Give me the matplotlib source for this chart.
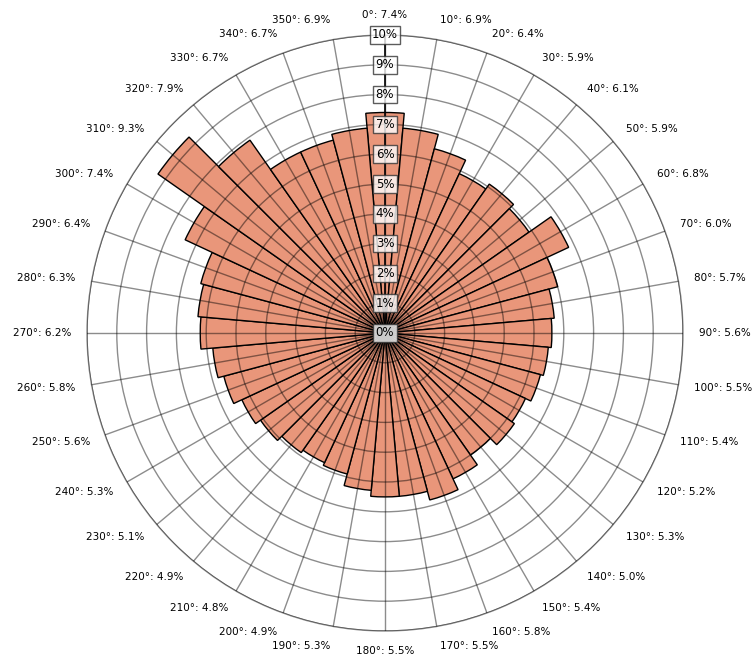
import numpy as np
import matplotlib
matplotlib.use("Agg")
import matplotlib.pyplot as plt
from matplotlib.transforms import offset_copy

# wind rose style frequencies, one per 10 deg sector
directions = np.arange(0, 360, 10)
freqs = [7.4, 6.9, 6.4, 5.9, 6.1, 5.9, 6.8, 6.0, 5.7, 5.6,
         5.5, 5.4, 5.2, 5.3, 5.0, 5.4, 5.8, 5.5, 5.5, 5.3,
         4.9, 4.8, 4.9, 5.1, 5.3, 5.6, 5.8, 6.2, 6.3, 6.4,
         7.4, 9.3, 7.9, 6.7, 6.7, 6.9]
r_ticks = list(range(0, 11))

W, H = 752, 656
fig = plt.figure(figsize=(W / 100, H / 100), dpi=100)
cx, cy, rad = 385, 333, 298
ax = fig.add_axes([(cx - rad) / W, (H - cy - rad) / H, 2 * rad / W, 2 * rad / H],
                  projection='polar')
ax.set_theta_zero_location('N')
ax.set_theta_direction(-1)

theta = np.deg2rad(directions)
ax.bar(theta, freqs, width=np.deg2rad(10), bottom=0, color='#E9967A',
       edgecolor='black', linewidth=1.0, zorder=1)

ax.set_ylim(0, 10)
ax.set_rticks(r_ticks[1:])
ax.set_yticklabels([])
ax.set_xticks(theta)
ax.set_xticklabels([])
ax.set_axisbelow(False)
ax.grid(True, color='black', alpha=0.45, linewidth=1.0)
ax.spines['polar'].set_color('black')
ax.spines['polar'].set_alpha(0.45)
ax.spines['polar'].set_linewidth(1.0)
ax.tick_params(length=0)

# radial axis line and boxed percent labels
ax.plot([0, 0], [0, 10], color='black', linewidth=1.2, zorder=3)
for r in r_ticks:
    ax.text(0, r, f"{r}%", ha='center', va='center', fontsize=8.5, zorder=5,
            bbox=dict(boxstyle='square,pad=0.2', facecolor='white', alpha=0.8,
                      edgecolor='#333333', linewidth=1.0))

# direction labels around the rim
r_lab = 314 / rad * 10
for d, f in zip(directions, freqs):
    a = np.deg2rad(d)
    s, c = np.sin(a), np.cos(a)
    if s > 0.05:
        ha = 'left'
    elif s < -0.05:
        ha = 'right'
    else:
        ha = 'center'
    tr = offset_copy(ax.transData, fig=fig, x=0, y=4 * c * 0.72, units='points')
    ax.text(a, r_lab, f"{d}°: {f}%", ha=ha, va='center', fontsize=7.5,
            transform=tr, clip_on=False)

fig.savefig("out.png", dpi=100)
